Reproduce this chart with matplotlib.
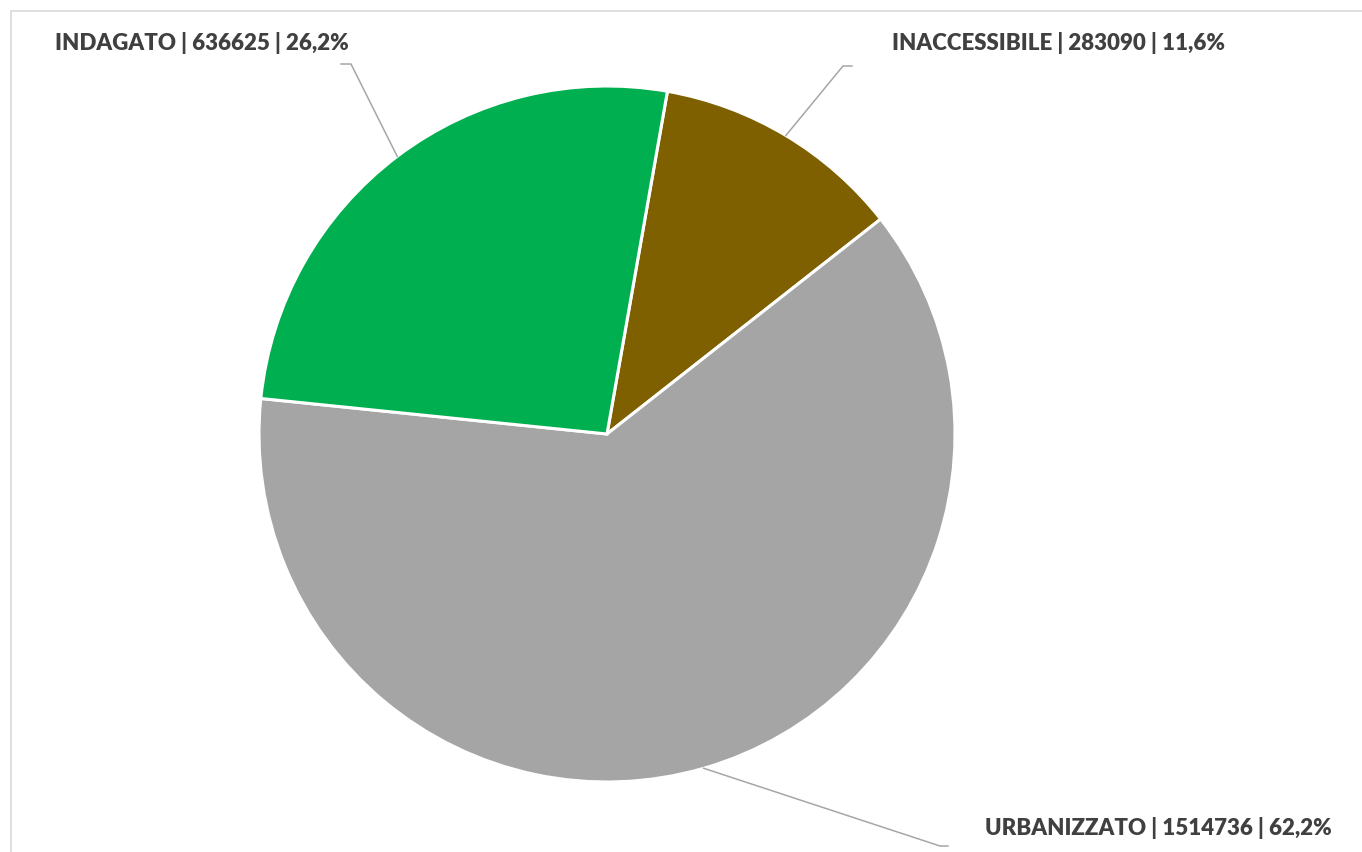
import numpy as np
import matplotlib
matplotlib.use('Agg')
import matplotlib.pyplot as plt
from matplotlib.patches import Rectangle

# land-use classes, clockwise from the first slice
labels = ['INACCESSIBILE', 'URBANIZZATO', 'INDAGATO']
values = [283090, 1514736, 636625]
colors = ['#7F6000', '#A5A5A5', '#00B050']

W, H = 1362, 852
fig = plt.figure(figsize=(W / 100, H / 100), dpi=100)
ax = fig.add_axes([0, 0, 1, 1])
ax.axis('off')

# work in pixel units, y pointing up
cx, cy, r = 607, H - 434, 348
wedges, _ = ax.pie(values, colors=colors, startangle=80, counterclock=False,
                   center=(cx, cy), radius=r,
                   wedgeprops=dict(edgecolor='white', linewidth=2.2))
ax.set_xlim(0, W)
ax.set_ylim(0, H)
ax.set_aspect('equal')

# light frame around the chart area
ax.add_patch(Rectangle((10.5, -20), W + 40, H - 10.5 + 20, fill=False,
                       edgecolor='#D9D9D9', linewidth=1.2, clip_on=True))

total = float(sum(values))
# elbow of leader line, end of elbow, text anchor, alignment
layout = {
    'INACCESSIBILE': ((843, 66), (852, 66), (892, 43), 'left'),
    'URBANIZZATO': ((940, 846), (948, 846), (985, 828), 'left'),
    'INDAGATO': ((351, 64), (341, 64), (349, 43), 'right'),
}

for w, lab, val in zip(wedges, labels, values):
    mid = np.deg2rad((w.theta1 + w.theta2) / 2)
    x0 = cx + r * np.cos(mid)
    y0 = cy + r * np.sin(mid)
    (ex, ey), (hx, hy), (tx, ty), ha = layout[lab]
    ax.plot([x0, ex, hx], [y0, H - ey, H - hy], color='#A6A6A6', lw=1.1,
            solid_joinstyle='miter')
    pct = '{:.1f}%'.format(100 * val / total).replace('.', ',')
    ax.text(tx, H - ty, '{} | {} | {}'.format(lab, val, pct), ha=ha, va='center',
            fontsize=16, fontweight='heavy', family='Lato', color='#404040')

fig.savefig('out.png', dpi=100, facecolor='white')
